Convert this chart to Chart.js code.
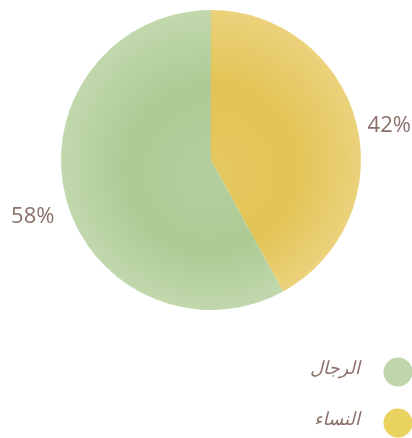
<!DOCTYPE html>
<html>
<head>
<meta charset="utf-8">
<script src="https://cdn.jsdelivr.net/npm/chart.js@4/dist/chart.umd.min.js"></script>
<style>
html,body{margin:0;padding:0;background:#fff;}
#wrap{width:412px;height:438px;position:relative;}
</style>
</head>
<body>
<div id="wrap"><canvas id="c" width="412" height="438"></canvas></div>
<script>
const categories = ["النساء", "الرجال"];
const values = [42, 58];
const valueLabels = ["42%", "58%"];
const legendOrder = [1, 0];
const colors = ["#e6c862", "#b4cf9e"];
const innerColors = ["#e2c354", "#adca94"];
const outerColors = ["#ebd27c", "#c1d8ad"];
const swatchColors = ["#e9d25e", "#bfd5ab"];
const textColor = "#8c716a";

const labelPlugin = {
  id: 'pctLabels',
  afterDatasetsDraw(chart) {
    const ctx = chart.ctx;
    const meta = chart.getDatasetMeta(0);
    ctx.save();
    ctx.font = '22px "Open Sans", "DejaVu Sans", sans-serif';
    ctx.fillStyle = textColor;
    ctx.textAlign = 'center';
    ctx.textBaseline = 'middle';
    meta.data.forEach((arc, i) => {
      const mid = (arc.startAngle + arc.endAngle) / 2;
      const d = arc.outerRadius + 34;
      const x = arc.x + Math.cos(mid) * d;
      const y = arc.y + Math.sin(mid) * d + 11;
      ctx.fillText(valueLabels[i], x, y);
    });
    ctx.restore();
  }
};

const legendPlugin = {
  id: 'customLegend',
  afterDraw(chart) {
    const ctx = chart.ctx;
    ctx.save();
    ctx.font = 'italic 18px "DejaVu Sans", sans-serif';
    ctx.textAlign = 'right';
    ctx.textBaseline = 'middle';
    legendOrder.forEach((idx, row) => {
      const cy = 372 + row * 51;
      ctx.beginPath();
      ctx.fillStyle = swatchColors[idx];
      ctx.arc(398, cy, 14.5, 0, Math.PI * 2);
      ctx.fill();
      ctx.fillStyle = textColor;
      ctx.fillText(categories[idx], 360, cy - 3);
    });
    ctx.restore();
  }
};

function fillFor(context) {
  const chart = context.chart;
  const i = context.dataIndex;
  const area = chart.chartArea;
  if (!area) return colors[i];
  const cx = (area.left + area.right) / 2;
  const cy = (area.top + area.bottom) / 2;
  const r = Math.min(area.right - area.left, area.bottom - area.top) / 2;
  const g = chart.ctx.createRadialGradient(cx, cy + 20, 0, cx, cy, r);
  g.addColorStop(0, colors[i]);
  g.addColorStop(0.55, innerColors[i]);
  g.addColorStop(1, outerColors[i]);
  return g;
}

new Chart(document.getElementById('c'), {
  type: 'pie',
  data: {
    labels: categories,
    datasets: [{
      data: values,
      backgroundColor: fillFor,
      borderWidth: 0
    }]
  },
  options: {
    responsive: false,
    animation: false,
    layout: { padding: { left: 61, right: 51, top: 10, bottom: 128 } },
    plugins: {
      legend: { display: false },
      tooltip: { enabled: false }
    }
  },
  plugins: [labelPlugin, legendPlugin]
});
</script>
</body>
</html>
